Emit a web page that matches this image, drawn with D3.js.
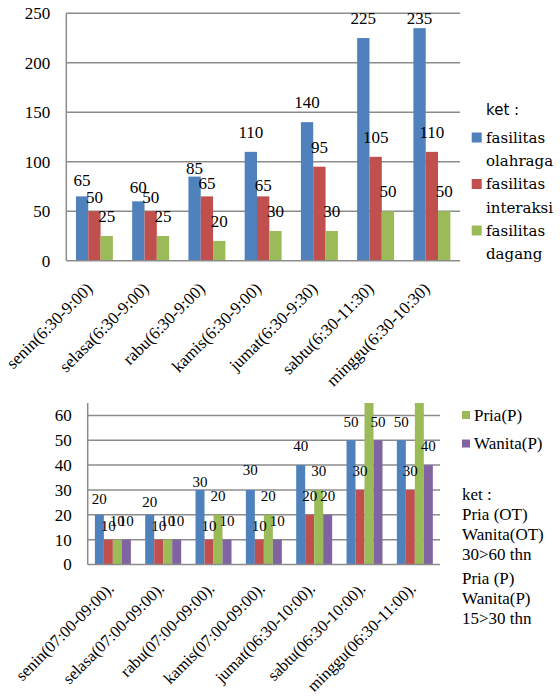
<!DOCTYPE html>
<html>
<head>
<meta charset="utf-8">
<script src="https://cdn.jsdelivr.net/npm/d3@7"></script>
<style>
  html, body { margin: 0; padding: 0; background: #fff; }
  svg { display: block; }
</style>
</head>
<body>
<svg id="chart" width="560" height="698"></svg>
<script>
// ---- Chart 1: facility use per day ----
const days1 = ["senin(6:30-9:00)", "selasa(6:30-9:00)", "rabu(6:30-9:00)", "kamis(6:30-9:00)",
               "jumat(6:30-9:30)", "sabtu(6:30-11:30)", "minggu(6:30-10:30)"];
const olahraga  = [65, 60, 85, 110, 140, 225, 235];
const interaksi = [50, 50, 65, 65, 95, 105, 110];
const dagang    = [25, 25, 20, 30, 30, 50, 50];
const ticks1    = [0, 50, 100, 150, 200, 250];
const legend1Title = "ket :";
const legend1Names = [["fasilitas", "olahraga"], ["fasilitas", "interaksi"], ["fasilitas", "dagang"]];

// ---- Chart 2: visitors by age group per day ----
const days2 = ["senin(07:00-09:00).", "selasa(07:00-09:00).", "rabu(07:00-09:00).", "kamis(07:00-09:00).",
               "jumat(06:30-10:00).", "sabtu(06:30-10:00).", "minggu(06:30-11:00)."];
const priaOT   = [20, 20, 30, 30, 40, 50, 50];
const wanitaOT = [10, 10, 10, 10, 20, 30, 30];
const priaP    = [10, 10, 20, 20, 30, 70, 70];
const wanitaP  = [10, 10, 10, 10, 20, 50, 40];
const ticks2   = [0, 10, 20, 30, 40, 50, 60];
const legend2Names = ["Pria(P)", "Wanita(P)"];
const legend2Notes = [["ket :", "Pria (OT)", "Wanita(OT)", "30>60 thn"], ["Pria (P)", "Wanita(P)", "15>30 thn"]];

const BLUE = "#4F81BD", RED = "#C0504D", GREEN = "#9BBB59", PURPLE = "#8064A2";
const GRID = "#8c8c8c";
const SERIF = "Liberation Serif";

const svg = d3.select("#chart");

// Draws one grouped bar chart; lift() gives how far above a bar top its value label sits.
function groupedBars(g, cfg) {
  const x = d3.scaleBand().domain(cfg.days).range(cfg.xRange).paddingInner(cfg.pad).paddingOuter(cfg.pad / 2);
  const y = d3.scaleLinear().domain(cfg.yDomain).range(cfg.yRange);
  const xs = d3.scaleBand().domain(d3.range(cfg.series.length)).range([0, x.bandwidth()]);
  const [x0, x1] = cfg.xRange;

  // gridlines
  g.append("g").selectAll("line").data(cfg.ticks.filter(t => t > 0)).join("line")
    .attr("x1", x0).attr("x2", x1).attr("y1", d => y(d)).attr("y2", d => y(d))
    .attr("stroke", GRID).attr("stroke-width", 1.5);

  // y tick labels
  g.append("g").selectAll("text").data(cfg.ticks).join("text")
    .attr("x", x0 - 16).attr("y", d => y(d)).attr("dy", "0.35em")
    .attr("text-anchor", "end").attr("font-family", SERIF).attr("font-size", cfg.tickSize)
    .text(d => d);

  const clipId = "clip" + cfg.id;
  g.append("clipPath").attr("id", clipId).append("rect")
    .attr("x", x0).attr("y", cfg.yRange[1]).attr("width", x1 - x0).attr("height", cfg.yRange[0] - cfg.yRange[1]);

  // bars
  const flat = [];
  cfg.series.forEach((s, si) => s.values.forEach((v, i) => flat.push({ si, i, v, color: s.color })));
  g.append("g").attr("clip-path", `url(#${clipId})`).selectAll("rect").data(flat).join("rect")
    .attr("x", d => x(cfg.days[d.i]) + xs(d.si))
    .attr("width", xs.bandwidth())
    .attr("y", d => y(d.v))
    .attr("height", d => y(0) - y(d.v))
    .attr("fill", d => d.color);

  // axis lines
  g.append("line").attr("x1", x0).attr("x2", x0).attr("y1", cfg.yRange[1]).attr("y2", cfg.yRange[0])
    .attr("stroke", GRID).attr("stroke-width", 1.5);
  g.append("line").attr("x1", x0).attr("x2", x1).attr("y1", y(0)).attr("y2", y(0))
    .attr("stroke", GRID).attr("stroke-width", 1.5);

  // value labels (only for bars inside the axis range)
  g.append("g").selectAll("text").data(flat.filter(d => d.v <= cfg.yDomain[1])).join("text")
    .attr("x", d => x(cfg.days[d.i]) + xs(d.si) + xs.bandwidth() / 2)
    .attr("y", d => Math.max(cfg.labelMinY, y(d.v) - cfg.lift(d.si, d.i)))
    .attr("dy", "0.35em").attr("text-anchor", "middle")
    .attr("font-family", SERIF).attr("font-size", cfg.labelSize)
    .text(d => d.v);

  // rotated category labels
  g.append("g").selectAll("text").data(cfg.days).join("text")
    .attr("transform", d => `translate(${x(d) + x.bandwidth() / 2 + cfg.catDx},${y(0) + cfg.catDy}) rotate(-45)`)
    .attr("text-anchor", "end")
    .attr("font-family", SERIF).attr("font-size", cfg.catSize)
    .text(d => d);
}

// ---------- chart 1 ----------
const g1 = svg.append("g");
const lift1 = {
  "0-0": 16, "0-1": 14.6, "0-2": 8.5,
  "1-0": 14.5, "1-1": 14.5, "1-2": 13.6, "1-3": 11
};
groupedBars(g1, {
  id: 1, days: days1,
  series: [{ values: olahraga, color: BLUE }, { values: interaksi, color: RED }, { values: dagang, color: GREEN }],
  xRange: [66.3, 460], pad: 0.343,
  yDomain: [0, 250], yRange: [260.7, 13.3], ticks: ticks1,
  tickSize: 17, labelSize: 17, catSize: 17, catDx: -1, catDy: 29, labelMinY: 18.5,
  lift: (s, i) => lift1[`${s}-${i}`] ?? 20
});

// legend 1
const lg1 = svg.append("g");
lg1.append("text").attr("x", 486).attr("y", 110).attr("dy", "0.35em")
  .attr("font-family", "DejaVu Sans").attr("font-size", 15).text(legend1Title);
[BLUE, RED, GREEN].forEach((c, k) => {
  const cy = 137.5 + k * 46.5;
  lg1.append("rect").attr("x", 471.7).attr("y", cy - 5).attr("width", 10).attr("height", 10).attr("fill", c);
  legend1Names[k].forEach((t, j) => {
    lg1.append("text").attr("x", 486).attr("y", cy + j * 23.5).attr("dy", "0.35em")
      .attr("font-family", "DejaVu Serif").attr("font-size", 15).text(t);
  });
});

// ---------- chart 2 ----------
const g2 = svg.append("g");
const lift2 = {
  "0-0": 16, "0-1": 13, "0-2": 8, "0-3": 20,
  "1-0": 14, "1-1": 14, "1-2": 14, "1-3": 14
};
groupedBars(g2, {
  id: 2, days: days2,
  series: [{ values: priaOT, color: BLUE }, { values: wanitaOT, color: RED },
           { values: priaP, color: GREEN }, { values: wanitaP, color: PURPLE }],
  xRange: [87.7, 440], pad: 0.285,
  yDomain: [0, 65], yRange: [564.5, 403], ticks: ticks2,
  tickSize: 17, labelSize: 15, catSize: 16.5, catDx: 2, catDy: 25, labelMinY: 0,
  lift: (s, i) => lift2[`${s}-${i}`] ?? 19
});

// legend 2
const lg2 = svg.append("g").attr("font-family", SERIF).attr("font-size", 17);
[GREEN, PURPLE].forEach((c, k) => {
  const cy = 415 + k * 28.5;
  lg2.append("rect").attr("x", 462).attr("y", cy - 4).attr("width", 8).attr("height", 8).attr("fill", c);
  lg2.append("text").attr("x", 474).attr("y", cy).attr("dy", "0.35em").text(legend2Names[k]);
});
legend2Notes.forEach((block, b) => {
  const top = b === 0 ? 494 : 578;
  block.forEach((t, j) => {
    lg2.append("text").attr("x", 462).attr("y", top + j * 20).attr("dy", "0.35em").text(t);
  });
});
</script>
</body>
</html>
